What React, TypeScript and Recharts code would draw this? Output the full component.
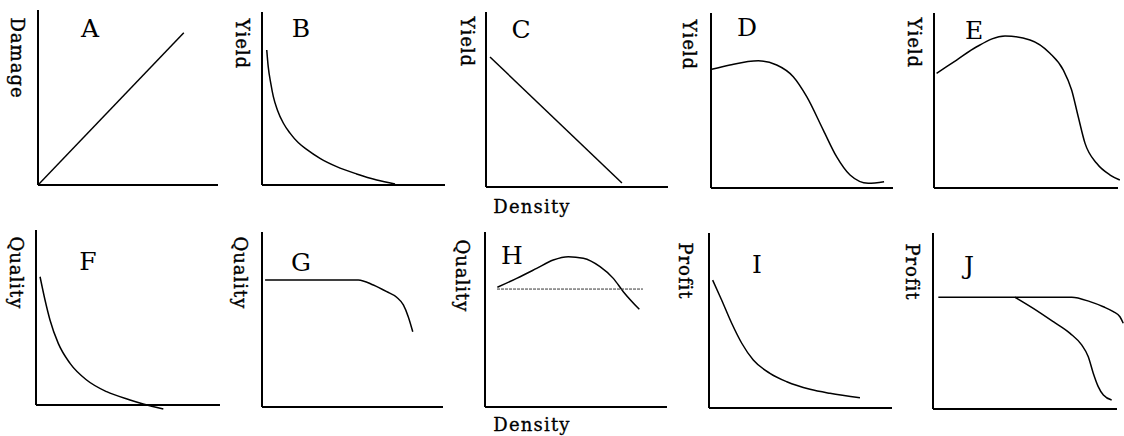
import React from 'react';
import { LineChart, Line, XAxis, YAxis, ReferenceLine } from 'recharts';

const curveA = [{ x: 0, y: 0 }, { x: 81, y: 87 }];
const curveB = [
  { x: 2.6, y: 78 }, { x: 3.4, y: 68.4 }, { x: 4.8, y: 58.8 }, { x: 6.2, y: 51.1 },
  { x: 8.4, y: 43.4 }, { x: 11.7, y: 35.7 }, { x: 15.3, y: 30 }, { x: 19.9, y: 24.4 },
  { x: 24.4, y: 20.6 }, { x: 31.7, y: 15.4 }, { x: 40.8, y: 10.6 }, { x: 51.7, y: 6.4 },
  { x: 62.7, y: 2.9 }, { x: 72.7, y: 0.6 },
];
const curveC = [{ x: 2.2, y: 74.3 }, { x: 74.7, y: 2.3 }];
const curveD = [
  { x: 0.4, y: 67.8 }, { x: 10.4, y: 70.3 }, { x: 26, y: 72.7 }, { x: 36.1, y: 70.3 },
  { x: 45.2, y: 63.6 }, { x: 52.6, y: 52.2 }, { x: 61.7, y: 33.1 }, { x: 69, y: 17.9 },
  { x: 76.4, y: 7.4 }, { x: 86.4, y: 2.7 }, { x: 95.1, y: 3.6 },
];
const curveE = [
  { x: 1.4, y: 65.5 }, { x: 12.3, y: 73.1 }, { x: 23.2, y: 80.7 }, { x: 38.6, y: 86.9 },
  { x: 52.2, y: 84.6 }, { x: 63, y: 77 }, { x: 70.3, y: 67.4 }, { x: 74.8, y: 56 },
  { x: 78.4, y: 40.7 }, { x: 82.1, y: 25.5 }, { x: 88.4, y: 14.1 }, { x: 95.7, y: 7.4 },
  { x: 101, y: 4.6 },
];
const curveF = [
  { x: 2.2, y: 73.3 }, { x: 4.9, y: 60 }, { x: 7.6, y: 48.6 }, { x: 12.1, y: 35.2 },
  { x: 18.5, y: 23.8 }, { x: 27.5, y: 14.3 }, { x: 38.4, y: 7.6 }, { x: 51.1, y: 2.9 },
  { x: 58.3, y: 0.6 }, { x: 69.2, y: -2.3 },
];
const curveG = [
  { x: 1.7, y: 72.6 }, { x: 53.2, y: 72.6 }, { x: 61.5, y: 69.7 }, { x: 68.9, y: 65.9 },
  { x: 74.4, y: 62.7 }, { x: 78.1, y: 58.3 }, { x: 80.8, y: 51.6 }, { x: 83.3, y: 43 },
];
const curveH = [
  { x: 6.8, y: 68.4 }, { x: 17.4, y: 73.5 }, { x: 28.4, y: 79.2 }, { x: 37.5, y: 84 },
  { x: 45.8, y: 85.9 }, { x: 54, y: 85 }, { x: 63.2, y: 80.2 }, { x: 70.5, y: 73.5 },
  { x: 76, y: 65.9 }, { x: 84.8, y: 55.8 },
];
const baselineH = [{ x: 6.6, y: 67.4 }, { x: 86.8, y: 67.4 }];
const curveI = [
  { x: 2, y: 73.1 }, { x: 6.9, y: 61.7 }, { x: 12.4, y: 48.4 }, { x: 17.9, y: 37 },
  { x: 24.2, y: 27.4 }, { x: 33.3, y: 19.8 }, { x: 42.5, y: 15 }, { x: 55.2, y: 10.7 },
  { x: 66.1, y: 8.4 }, { x: 82.5, y: 5.9 },
];
const curveJ1 = [
  { x: 2.9, y: 63.5 }, { x: 75.4, y: 63.5 }, { x: 85.3, y: 61 }, { x: 92.6, y: 58.1 },
  { x: 98, y: 55.3 }, { x: 101.6, y: 52.4 }, { x: 103.4, y: 48.7 },
];
const curveJ2 = [
  { x: 44.6, y: 63.5 }, { x: 54.5, y: 57.2 }, { x: 65.4, y: 49.6 }, { x: 74.5, y: 43 },
  { x: 80.8, y: 36.4 }, { x: 84.4, y: 29.7 }, { x: 87.1, y: 20.3 }, { x: 89.8, y: 12.7 },
  { x: 92.6, y: 7.9 }, { x: 97.1, y: 5.1 },
];

const panelLetters = ['A', 'B', 'C', 'D', 'E', 'F', 'G', 'H', 'I', 'J'];
const yLabels = ['Damage', 'Yield', 'Yield', 'Yield', 'Yield', 'Quality', 'Quality', 'Quality', 'Profit', 'Profit'];
const xLabel = 'Density';

type Pt = { x: number; y: number };
type Series = { data: Pt[]; curved: boolean; dashed?: boolean };

const panelSeries: Series[][] = [
  [{ data: curveA, curved: false }],
  [{ data: curveB, curved: true }],
  [{ data: curveC, curved: false }],
  [{ data: curveD, curved: true }],
  [{ data: curveE, curved: true }],
  [{ data: curveF, curved: true }],
  [{ data: curveG, curved: true }],
  [{ data: curveH, curved: true }, { data: baselineH, curved: false, dashed: true }],
  [{ data: curveI, curved: true }],
  [{ data: curveJ1, curved: true }, { data: curveJ2, curved: true }],
];

// axis box (left, top, width, height), letter centre, y label centre
const layout = [
  { l: 38, t: 10, w: 180, h: 175, lx: 90, ly: 28, yx: 17, yy: 58 },
  { l: 262, t: 12, w: 183, h: 173, lx: 301, ly: 28, yx: 242, yy: 44 },
  { l: 486, t: 12, w: 182, h: 175, lx: 521, ly: 29, yx: 467, yy: 42 },
  { l: 711, t: 13, w: 182, h: 175, lx: 747, ly: 27, yx: 689, yy: 45 },
  { l: 934, t: 13, w: 184, h: 175, lx: 974, ly: 30, yx: 914, yy: 43 },
  { l: 36, t: 230, w: 184, h: 175, lx: 88, ly: 261, yx: 16, yy: 273 },
  { l: 262, t: 232, w: 181, h: 175, lx: 301, ly: 262, yx: 240, yy: 273 },
  { l: 485, t: 232, w: 182, h: 175, lx: 512, ly: 255, yx: 462, yy: 276 },
  { l: 709, t: 233, w: 183, h: 175, lx: 757, ly: 264, yx: 685, yy: 271 },
  { l: 933, t: 233, w: 184, h: 176, lx: 969, ly: 265, yx: 912, yy: 272 },
];

const font = '"DejaVu Serif", "Liberation Serif", serif';
const M = 2;

const Panel: React.FC<{ idx: number }> = ({ idx }) => {
  const p = layout[idx];
  const pw = p.w * 1.1;
  const ph = p.h * 1.1;
  return (
    <>
      <div style={{ position: 'absolute', left: p.l - M, top: p.t - M }}>
        <LineChart width={pw + 2 * M} height={ph + 2 * M} margin={{ top: M, right: M, bottom: M, left: M }}>
          <XAxis hide type="number" dataKey="x" domain={[0, 110]} allowDataOverflow />
          <YAxis hide type="number" domain={[-10, 100]} allowDataOverflow />
          <ReferenceLine segment={[{ x: 0, y: 0 }, { x: 100, y: 0 }]} stroke="#000" strokeWidth={2} />
          <ReferenceLine segment={[{ x: 0, y: 0 }, { x: 0, y: 100 }]} stroke="#000" strokeWidth={2} />
          {panelSeries[idx].map((s, i) => (
            <Line
              key={i}
              data={s.data}
              dataKey="y"
              type={s.curved ? 'monotone' : 'linear'}
              stroke={s.dashed ? '#333' : '#000'}
              strokeWidth={s.dashed ? 1 : 1.5}
              strokeDasharray={s.dashed ? '3 1' : undefined}
              dot={false}
              isAnimationActive={false}
            />
          ))}
        </LineChart>
      </div>
      <div
        style={{
          position: 'absolute', left: p.lx, top: p.ly, transform: 'translate(-50%, -50%)',
          fontFamily: font, fontSize: 25, lineHeight: 1, color: '#000',
        }}
      >
        {panelLetters[idx]}
      </div>
      <div
        style={{
          position: 'absolute', left: p.yx, top: p.yy, transform: 'translate(-50%, -50%)',
          writingMode: 'vertical-rl', fontFamily: font, fontSize: 18, lineHeight: 1,
          letterSpacing: 1, color: '#000', whiteSpace: 'nowrap', WebkitTextStroke: '0.4px #000',
        }}
      >
        {yLabels[idx]}
      </div>
    </>
  );
};

const densityStyle: React.CSSProperties = {
  position: 'absolute', left: 532, transform: 'translate(-50%, -50%)',
  fontFamily: font, fontSize: 18, lineHeight: 1, letterSpacing: 1.2, color: '#000',
  whiteSpace: 'nowrap', WebkitTextStroke: '0.3px #000',
};

export default function App() {
  return (
    <div style={{ position: 'absolute', left: 0, top: 0, width: 1124, height: 436, background: '#fff', overflow: 'hidden' }}>
      {layout.map((_, i) => (
        <Panel key={i} idx={i} />
      ))}
      <div style={{ ...densityStyle, top: 207 }}>{xLabel}</div>
      <div style={{ ...densityStyle, top: 425 }}>{xLabel}</div>
    </div>
  );
}
